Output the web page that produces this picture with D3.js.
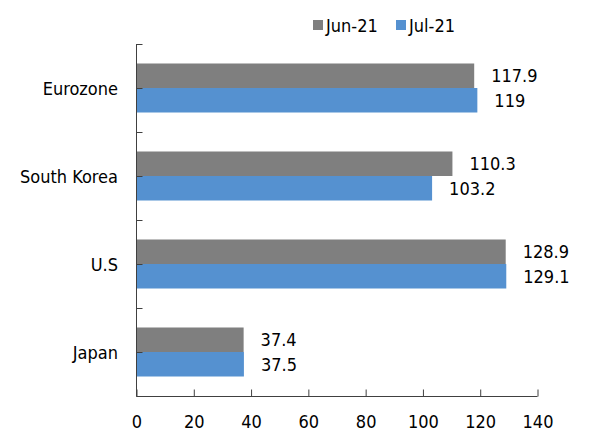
<!DOCTYPE html>
<html><head><meta charset="utf-8">
<script src="https://cdn.jsdelivr.net/npm/d3@7/dist/d3.min.js"></script>
<style>body{margin:0;background:#fff}svg{display:block}text{font-family:"DejaVu Sans Condensed","DejaVu Sans",sans-serif;font-stretch:condensed;font-size:18px;fill:#000}</style>
</head><body><svg id="c" width="601" height="440"></svg>
<script>
const categories = ["Eurozone", "South Korea", "U.S", "Japan"];
const seriesNames = ["Jun-21", "Jul-21"];
const jun21 = [117.9, 110.3, 128.9, 37.4];
const jul21 = [119, 103.2, 129.1, 37.5];
const xTicks = [0, 20, 40, 60, 80, 100, 120, 140];
const colors = ["#7f7f7f", "#5591d0"];

const svg = d3.select("#c");
const x = d3.scaleLinear().domain([0, 140]).range([136.5, 537.5]);
const y = d3.scaleBand().domain(categories).range([44, 396]).paddingInner(0).paddingOuter(0);
const sub = d3.scaleBand().domain(seriesNames).range([0, 49]);
const barOff = (y.bandwidth() - 49) / 2;
const data = [jun21, jul21];

// bars
seriesNames.forEach((s, si) => {
  svg.append("g").selectAll("rect").data(categories).join("rect")
    .attr("x", x(0))
    .attr("y", c => y(c) + barOff + sub(s))
    .attr("width", (c, i) => x(data[si][i]) - x(0))
    .attr("height", sub.bandwidth())
    .attr("fill", colors[si]);
  svg.append("g").selectAll("text").data(categories).join("text")
    .attr("x", (c, i) => x(data[si][i]) + 17)
    .attr("y", c => y(c) + barOff + sub(s) + sub.bandwidth() / 2)
    .attr("dy", "0.36em")
    .text((c, i) => data[si][i]);
});

// x axis
const xAxis = d3.axisBottom(x).tickValues(xTicks).tickSize(-7).tickPadding(19).tickFormat(d3.format("d"));
const gx = svg.append("g").attr("transform", "translate(0,396.5)").call(xAxis);
gx.select(".domain").attr("stroke", "#404040").attr("d", `M${x(0)},0H${x(140)}`);
gx.selectAll(".tick line").attr("stroke", "#404040");
gx.selectAll(".tick text").attr("font-size", null).attr("font-family", null).attr("fill", "#000");

// y axis: ticks at half-band intervals
const half = d3.range(0, 2 * categories.length + 1).map(i => 44 + i * y.bandwidth() / 2);
const ya = svg.append("g");
ya.append("line").attr("x1", x(0)).attr("x2", x(0)).attr("y1", 44).attr("y2", 396.5).attr("stroke", "#404040");
ya.selectAll("line.t").data(half).join("line").attr("class", "t")
  .attr("x1", x(0)).attr("x2", x(0) + 6).attr("y1", d => Math.round(d) + 0.5).attr("y2", d => Math.round(d) + 0.5)
  .attr("stroke", "#404040");
ya.selectAll("text").data(categories).join("text")
  .attr("x", 118).attr("y", c => y(c) + y.bandwidth() / 2 + 1).attr("dy", "0.36em")
  .attr("text-anchor", "end").text(c => c);

// legend
const leg = svg.append("g");
const lx = [313, 396];
seriesNames.forEach((s, i) => {
  leg.append("rect").attr("x", lx[i]).attr("y", 20).attr("width", 10).attr("height", 10).attr("fill", colors[i]);
  leg.append("text").attr("x", lx[i] + 13).attr("y", 26).attr("dy", "0.36em").text(s);
});
</script></body></html>
